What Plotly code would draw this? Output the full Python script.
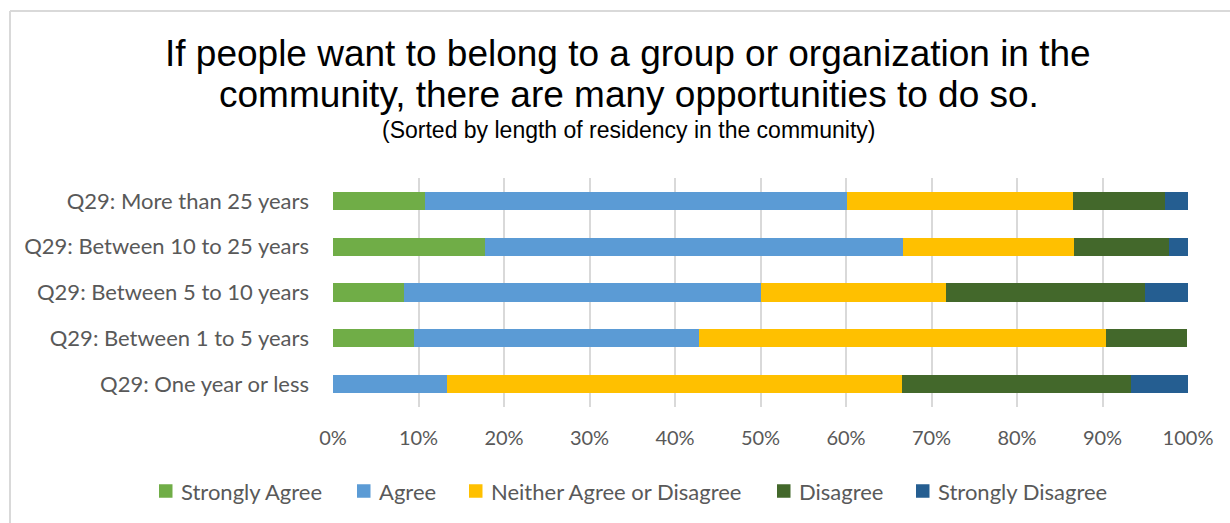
import plotly.graph_objects as go

# Survey responses by length of residency (percent of respondents)
categories = [
    "Q29: More than 25 years",
    "Q29: Between 10 to 25 years",
    "Q29: Between 5 to 10 years",
    "Q29: Between 1 to 5 years",
    "Q29: One year or less",
]
strongly_agree = [10.8, 17.8, 8.3, 9.5, 0.0]
agree = [49.3, 48.9, 41.7, 33.3, 13.3]
neither = [26.4, 20.0, 21.7, 47.6, 53.3]
disagree = [10.8, 11.1, 23.3, 9.5, 26.7]
strongly_disagree = [2.7, 2.2, 5.0, 0.0, 6.7]

series_names = ["Strongly Agree", "Agree", "Neither Agree or Disagree",
                "Disagree", "Strongly Disagree"]
series_values = [strongly_agree, agree, neither, disagree, strongly_disagree]
series_colors = ["#70AD47", "#5B9BD5", "#FFC000", "#43682B", "#255E91"]

x_tickvals = list(range(0, 101, 10))
x_ticktext = [f"{v}%" for v in x_tickvals]

title_lines = [
    "If people want to belong to a group or organization in the",
    "community, there are many opportunities to do so.",
]
subtitle = "(Sorted by length of residency in the community)"

label_font = "Lato, Carlito, Calibri, sans-serif"
title_font = "Liberation Sans, Arial, sans-serif"
label_color = "#595959"

fig = go.Figure()
for name, vals, color in zip(series_names, series_values, series_colors):
    fig.add_trace(go.Bar(
        y=categories, x=vals, name=name, orientation="h",
        marker=dict(color=color, line=dict(width=0)),
        hovertemplate=name + ": %{x}%<extra>%{y}</extra>",
    ))

W, H = 1230, 523
L, R, T, B = 333, 42, 178, 116
pw, ph = W - L - R, H - T - B

def px_x(px):
    return (px - L) / pw

def px_y(py):
    return (H - B - py) / ph

annotations = [
    dict(text=title_lines[0], x=px_x(628), y=px_y(53.5), xref="paper", yref="paper",
         showarrow=False, xanchor="center", yanchor="middle",
         font=dict(family=title_font, size=37, color="#000000")),
    dict(text=title_lines[1], x=px_x(629), y=px_y(94), xref="paper", yref="paper",
         showarrow=False, xanchor="center", yanchor="middle",
         font=dict(family=title_font, size=37, color="#000000")),
    dict(text=subtitle, x=px_x(628), y=px_y(130), xref="paper", yref="paper",
         showarrow=False, xanchor="center", yanchor="middle",
         font=dict(family=title_font, size=23, color="#000000")),
]

# chart frame: top and left edges
shapes = [
    dict(type="line", xref="paper", yref="paper", x0=px_x(10), x1=px_x(W + 5),
         y0=px_y(11), y1=px_y(11), line=dict(color="#D9D9D9", width=2)),
    dict(type="line", xref="paper", yref="paper", x0=px_x(10), x1=px_x(10),
         y0=px_y(11), y1=px_y(H + 5), line=dict(color="#D9D9D9", width=2)),
]

# legend row below the axis: square swatch followed by its label
legend_swatch_left = [159, 357, 469, 777, 916]
legend_row_y = 491
swatch = 13.5
for name, color, sx in zip(series_names, series_colors, legend_swatch_left):
    shapes.append(dict(
        type="rect", xref="paper", yref="paper",
        x0=px_x(sx), x1=px_x(sx + swatch),
        y0=px_y(legend_row_y - swatch / 2), y1=px_y(legend_row_y + swatch / 2),
        line=dict(width=0), fillcolor=color,
    ))
    annotations.append(dict(
        text=name, x=px_x(sx + swatch + 6), y=px_y(legend_row_y),
        xref="paper", yref="paper", showarrow=False,
        xanchor="left", yanchor="middle",
        font=dict(family=label_font, size=22, color=label_color),
    ))

fig.update_layout(
    width=W, height=H,
    margin=dict(l=L, r=R, t=T, b=B, autoexpand=False),
    barmode="stack", bargap=0.6,
    plot_bgcolor="white", paper_bgcolor="white",
    showlegend=False,
    annotations=annotations,
    shapes=shapes,
    xaxis=dict(range=[0, 100], tickvals=x_tickvals, ticktext=x_ticktext,
               showgrid=True, gridcolor="#D9D9D9", gridwidth=1.5, zeroline=False,
               showline=False, ticks="", ticklabelstandoff=17,
               tickfont=dict(family=label_font, size=20, color=label_color)),
    yaxis=dict(autorange="reversed", showgrid=False, zeroline=False,
               showline=False, ticks="", ticklabelstandoff=23,
               tickfont=dict(family=label_font, size=22, color=label_color)),
)

fig.write_html("out.html")
